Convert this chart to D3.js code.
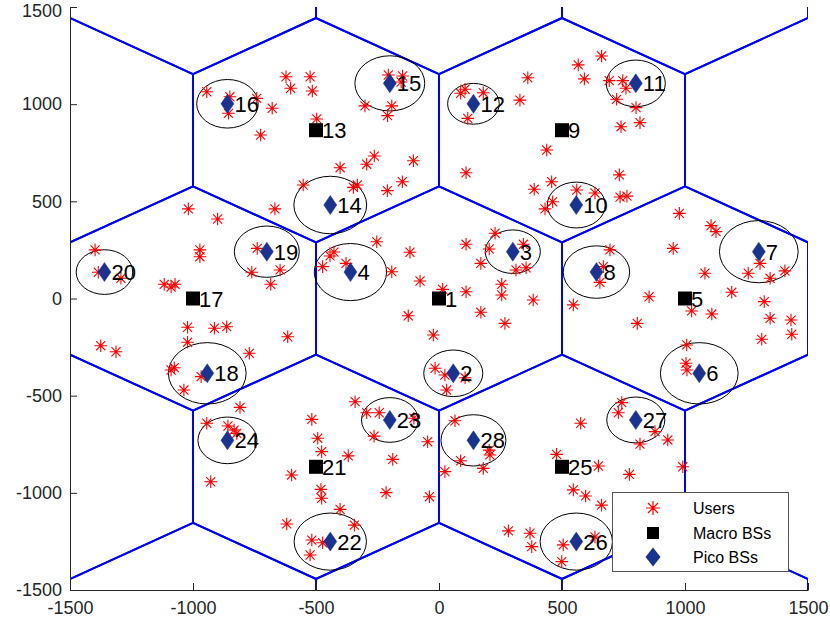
<!DOCTYPE html>
<html><head><meta charset="utf-8">
<script src="https://cdn.jsdelivr.net/npm/d3@7"></script>
<style>body{margin:0;background:#fff}svg{display:block}text{font-family:"Liberation Sans",Arial,Helvetica,sans-serif}</style>
</head><body><svg id="c" width="830" height="626"></svg>
<script>
// ---- data ----
const usersX = [-944,-850,-856,-741,-678,-725,-622,-603,-524,-515,-497,-301,-206,-148,-154,-192,-209,-263,-294,-104,-402,-149,-210,-348,-332,-552,-667,
 88,106,180,117,361,329,438,110,566,661,591,692,747,760,722,801,817,740,733,387,458,560,634,736,764,431,462,
 -1019,-900,-972,-972,-1398,-1385,-1293,-1117,-1073,-1089,-1022,-913,-863,-1022,-1375,-1313,-1076,-1089,-967,-1037,-771,-739,-646,-761,-684,-615,
 -443,-427,-473,-378,-253,-192,-118,-77,-125,-23,-16,15,110,228,204,170,343,313,354,255,255,110,383,170,268,546,695,654,668,24,106,31,
 977,1106,1126,952,1081,1305,1257,1346,1406,1190,854,806,1027,1109,1322,1346,1431,1434,1312,1007,1004,1008,
 -809,-944,-858,-833,-822,-928,-517,-493,-477,-599,-369,-480,-477,-402,-619,-344,-517,-473,-524,-341,-294,-243,-264,-102,-46,-188,-215,-39,
 65,204,207,88,24,180,576,478,648,774,743,729,546,596,661,282,370,377,505,499,634,
 878,930,817,991];
const usersY = [1064,1038,953,1030,979,841,1141,1082,1141,1068,924,991,1150,1145,1114,991,941,733,691,709,673,601,555,572,584,584,461,
 1056,1077,1059,927,1136,1021,764,647,1202,1248,1130,1121,1121,1082,1025,982,905,884,636,562,601,558,543,522,527,461,498,
 461,409,250,215,250,135,104,73,73,59,-148,-153,-145,-225,-243,-274,-356,-368,-402,-471,-282,258,147,135,73,-197,
 219,239,164,181,292,138,238,90,-89,-188,-359,47,279,336,255,181,279,147,158,73,18,35,-8,-71,-128,-33,250,83,164,-394,-408,-471,
 438,375,344,258,130,181,130,104,142,32,9,-128,-64,-80,-16,-102,-111,-184,-210,-239,-333,-368,
 -560,-642,-656,-677,-694,-943,-622,-719,-788,-908,-810,-982,-1028,-1085,-1160,-1166,-1243,-1257,-1320,-531,-588,-588,-708,-616,-737,-828,-999,-1020,
 -629,-780,-805,-835,-891,-874,-642,-802,-862,-905,-536,-588,-985,-1016,-1063,-1196,-1208,-1277,-1268,-1354,-1227,
 -685,-728,-749,-866];

const macroId = [1,5,9,13,17,21,25];
const macroX = [0,1000,500,-500,-1000,-500,500];
const macroY = [0,0,866,866,0,-866,-866];

const picoId = [2,3,4,6,7,8,10,11,12,14,15,16,18,19,20,22,23,24,26,27,28];
const picoX = [58,300,-360,1058,1300,640,558,800,140,-442,-200,-860,-942,-700,-1360,-442,-200,-860,558,800,140];
const picoY = [-385,241,136,-385,241,136,481,1107,1002,481,1107,1002,-385,241,136,-1251,-625,-730,-1251,-625,-730];
const picoR = [120,112,147,158,160,135,118,120,105,148,142,125,158,132,115,147,115,120,147,118,132];

const xTicks = [-1500,-1000,-500,0,500,1000,1500];
const yTicks = [-1500,-1000,-500,0,500,1000,1500];
const legendLabels = ["Users","Macro BSs","Pico BSs"];
const cellRadius = 1000/Math.sqrt(3);

// ---- layout ----
const L=70, R=808, T=7, B=590;
const svg = d3.select("#c");
const x = d3.scaleLinear().domain([-1500,1500]).range([L,R]);
const y = d3.scaleLinear().domain([-1500,1500]).range([B,T]);
const axisCol = "#262626";

svg.append("defs").append("clipPath").attr("id","clip")
  .append("rect").attr("x",L).attr("y",T).attr("width",R-L).attr("height",B-T);
const plot = svg.append("g").attr("clip-path","url(#clip)");

// hex grid: lattice of cells around macro sites (two rings)
const centers = [];
for (let i=-4;i<=4;i++) for (let j=-4;j<=4;j++) {
  const cx = i*1000 + j*500, cy = j*866.025;
  if (Math.abs(cx) < 2600 && Math.abs(cy) < 2000) centers.push([cx,cy]);
}
const hexPath = c => {
  const pts = d3.range(6).map(k => {
    const a = Math.PI/2 + k*Math.PI/3;
    return [x(c[0]+cellRadius*Math.cos(a)), y(c[1]+cellRadius*Math.sin(a))];
  });
  return "M" + pts.map(p=>p.join(",")).join("L") + "Z";
};
plot.append("g").selectAll("path").data(centers).join("path")
  .attr("d", hexPath).attr("fill","none").attr("stroke","#0000ff").attr("stroke-width",2);

// pico coverage circles
const pico = picoId.map((id,i)=>({id, x:picoX[i], y:picoY[i], r:picoR[i]}));
plot.append("g").selectAll("ellipse").data(pico).join("ellipse")
  .attr("cx",d=>x(d.x)).attr("cy",d=>y(d.y))
  .attr("rx",d=>x(d.r)-x(0)).attr("ry",d=>y(0)-y(d.r))
  .attr("fill","none").attr("stroke","#000").attr("stroke-width",1);

// users
const star = (s) => { const d=s*0.72; return `M${-s},0L${s},0M0,${-s}L0,${s}M${-d},${-d}L${d},${d}M${-d},${d}L${d},${-d}`; };
const users = usersX.map((v,i)=>({x:v, y:usersY[i]}));
plot.append("g").selectAll("path").data(users).join("path")
  .attr("transform",d=>`translate(${x(d.x)},${y(d.y)})`)
  .attr("d", star(6.3)).attr("stroke","#ff0000").attr("stroke-width",1.1).attr("fill","none");

// macro BSs
const macro = macroId.map((id,i)=>({id, x:macroX[i], y:macroY[i]}));
const gM = plot.append("g");
gM.selectAll("rect").data(macro).join("rect")
  .attr("x",d=>x(d.x)-7).attr("y",d=>y(d.y)-7).attr("width",14).attr("height",14).attr("fill","#000");
gM.selectAll("text").data(macro).join("text")
  .attr("x",d=>x(d.x)+6).attr("y",d=>y(d.y)+8).attr("font-size",22).attr("fill","#000").text(d=>d.id);

// pico BSs
const diamond = (w,h) => `M0,${-h}L${w},0L0,${h}L${-w},0Z`;
const gP = plot.append("g");
gP.selectAll("path").data(pico).join("path")
  .attr("transform",d=>`translate(${x(d.x)},${y(d.y)})`)
  .attr("d",diamond(6.5,9.5)).attr("fill","#1a3390").attr("stroke","#1a3390").attr("stroke-width",0.5);
gP.selectAll("text").data(pico).join("text")
  .attr("x",d=>x(d.x)+7).attr("y",d=>y(d.y)+8).attr("font-size",22).attr("fill","#000").text(d=>d.id);

// axes (MATLAB style: inward ticks, left and bottom only)
const gx = svg.append("g").attr("transform",`translate(0,${B})`)
  .call(d3.axisBottom(x).tickValues(xTicks).tickSizeInner(-7).tickSizeOuter(0).tickPadding(11).tickFormat(d3.format("d")));
const gy = svg.append("g").attr("transform",`translate(${L},0)`)
  .call(d3.axisLeft(y).tickValues(yTicks).tickSizeInner(-7).tickSizeOuter(0).tickPadding(8).tickFormat(d3.format("d")));
[gx,gy].forEach(g=>{
  g.selectAll("path,line").attr("stroke",axisCol).attr("stroke-width",1);
  g.selectAll("text").attr("fill",axisCol).attr("font-size",18)
   .attr("font-family",'"Liberation Sans",Arial,sans-serif');
});
gx.selectAll("text").text(d=>d<0?"-"+Math.abs(d):d);
gy.selectAll("text").text(d=>d<0?"-"+Math.abs(d):d)
  .attr("dy",d=>d===1500?"0.55em":"0.32em");

// legend
const lg = svg.append("g");
lg.append("rect").attr("x",612.5).attr("y",492.5).attr("width",176).attr("height",79)
  .attr("fill","#fff").attr("stroke","#555").attr("stroke-width",1);
const ly = [508,533,557];
const mx = 653;
lg.append("path").attr("transform",`translate(${mx},${ly[0]})`).attr("d",star(7))
  .attr("stroke","#ff0000").attr("stroke-width",1.2).attr("fill","none");
lg.append("rect").attr("x",mx-6).attr("y",ly[1]-6).attr("width",12).attr("height",12).attr("fill","#000");
lg.append("path").attr("transform",`translate(${mx},${ly[2]})`).attr("d",diamond(7.5,9.5)).attr("fill","#1a3390");
lg.selectAll("text").data(legendLabels).join("text")
  .attr("x",693).attr("y",(d,i)=>ly[i]+6).attr("font-size",16).attr("fill","#000").text(d=>d);
</script></body></html>
